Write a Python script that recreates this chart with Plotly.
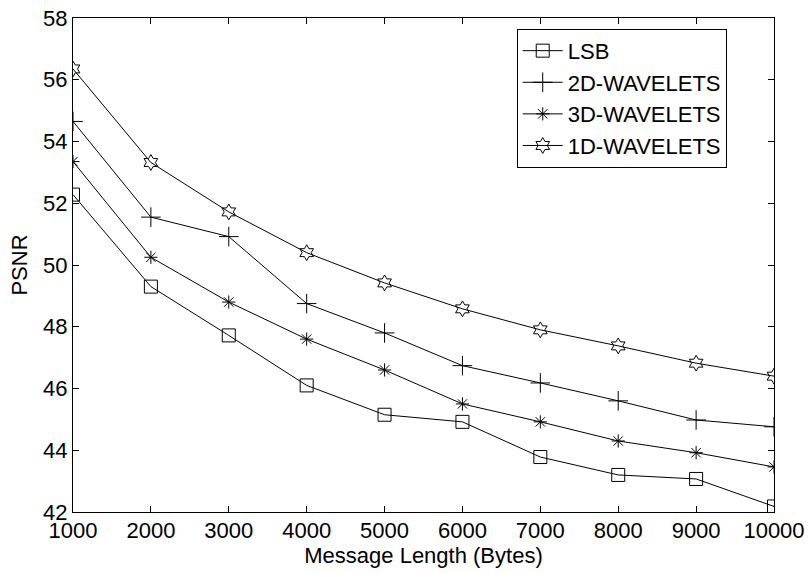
import plotly.graph_objects as go

x_vals = [1000, 2000, 3000, 4000, 5000, 6000, 7000, 8000, 9000, 10000]
x_ticktext = ["1000", "2000", "3000", "4000", "5000", "6000", "7000", "8000", "9000", "10000"]
y_ticks = [42, 44, 46, 48, 50, 52, 54, 56, 58]
lsb = [52.28, 49.3, 47.72, 46.1, 45.15, 44.92, 43.78, 43.2, 43.07, 42.18]
wav2d = [54.65, 51.55, 50.92, 48.75, 47.8, 46.74, 46.18, 45.6, 44.98, 44.76]
wav3d = [53.35, 50.25, 48.8, 47.6, 46.6, 45.5, 44.92, 44.3, 43.92, 43.46]
wav1d = [56.35, 53.32, 51.72, 50.4, 49.42, 48.58, 47.9, 47.38, 46.82, 46.4]

series = [
    ("LSB", lsb, "square-open", 13),
    ("2D-WAVELETS", wav2d, "cross-thin-open", 14),
    ("3D-WAVELETS", wav3d, "asterisk-open", 11),
    ("1D-WAVELETS", wav1d, "hexagram-open", 12),
]

FONT = "Liberation Sans, Arial"
FS = 22

fig = go.Figure()
for name, ys, sym, sz in series:
    fig.add_trace(go.Scatter(
        x=x_vals, y=ys, name=name, mode="lines+markers",
        line=dict(color="black", width=1),
        marker=dict(symbol=sym, size=sz, color="black",
                    line=dict(color="black", width=1)),
    ))

axis_common = dict(
    showline=True, linecolor="black", linewidth=1, mirror="allticks",
    ticks="inside", ticklen=6, tickcolor="black", showgrid=False,
    zeroline=False, automargin=False,
    tickfont=dict(family=FONT, size=FS, color="black"),
)

fig.update_layout(
    width=809, height=573,
    margin=dict(l=73, r=35, t=18, b=61, autoexpand=False),
    paper_bgcolor="white", plot_bgcolor="white",
    font=dict(family=FONT, size=FS, color="black"),
    showlegend=True,
    legend=dict(x=0.633, y=0.978, xanchor="left", yanchor="top",
                bordercolor="black", borderwidth=1, bgcolor="white",
                font=dict(family=FONT, size=FS), tracegroupgap=0, itemwidth=40),
    xaxis=dict(range=[1000, 10000], tickvals=x_vals, ticktext=x_ticktext,
               ticklabelstandoff=-1,
               title=dict(text="Message Length (Bytes)", standoff=1,
                          font=dict(family=FONT, size=FS)), **axis_common),
    yaxis=dict(range=[42, 58], tickvals=y_ticks,
               title=dict(text="PSNR", standoff=9,
                          font=dict(family=FONT, size=FS)), **axis_common),
)

fig.write_html(
    "out.html",
    config={"displayModeBar": False},
    post_script="document.body.style.margin='0';document.body.style.overflow='hidden';",
)
